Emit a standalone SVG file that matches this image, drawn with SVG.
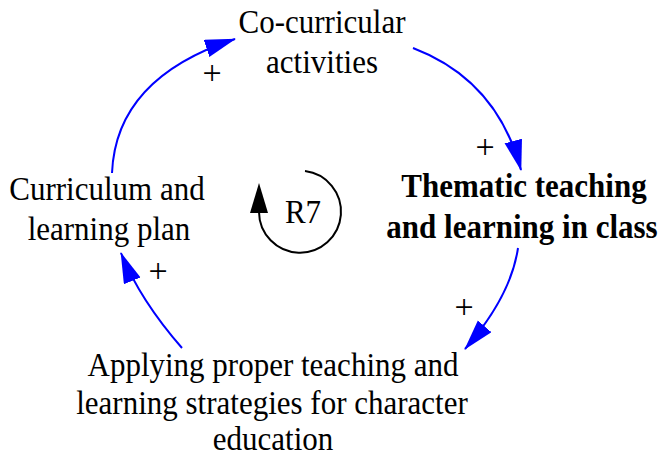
<svg xmlns="http://www.w3.org/2000/svg" width="662" height="456" viewBox="0 0 662 456">
<defs>
<style>
text{font-family:'Liberation Serif',serif;font-size:31px;fill:#000;text-anchor:middle}
.b{font-weight:bold}
.pl{font-size:34px}
.link{fill:none;stroke:#0000ff;stroke-width:2;marker-end:url(#ah)}
</style>
<marker id="ah" markerUnits="userSpaceOnUse" markerWidth="32" markerHeight="20" refX="30" refY="9" orient="auto">
<path d="M0,0 L31,9 L0,18 z" fill="#0000ff"/>
</marker>
</defs>
<rect width="662" height="456" fill="#fff"/>
<g id="connectors">
<path class="link" d="M112,173 Q116,78 235,39"/>
<path class="link" d="M413,48 Q497,80 521,170"/>
<path class="link" d="M518,248 Q511,296 465,349"/>
<path class="link" d="M182,348 Q140,300 121,253"/>
<text class="pl" x="212" y="84">+</text>
<text class="pl" x="485" y="158">+</text>
<text class="pl" x="464" y="318">+</text>
<text class="pl" x="158" y="282">+</text>
</g>
<g id="loop">
<path d="M305,171 A41,41 0 1 1 259,212" fill="none" stroke="#000" stroke-width="2"/>
<path d="M259,183 L250,213 L268,213 z" fill="#000"/>
<text font-family="Liberation Serif, serif" transform="translate(303,223) scale(1,1.12)">R7</text>
</g>
<g id="cocurricular">
<text font-family="Liberation Serif, serif" transform="translate(322,33) scale(1,1.12)">Co-curricular</text>
<text font-family="Liberation Serif, serif" transform="translate(322,73) scale(1,1.12)">activities</text>
</g>
<g id="thematic">
<text class="b" font-family="Liberation Serif, serif" transform="translate(524,197) scale(1,1.12)">Thematic teaching</text>
<text class="b" font-family="Liberation Serif, serif" transform="translate(522,238) scale(1,1.12)">and learning in class</text>
</g>
<g id="curriculum">
<text font-family="Liberation Serif, serif" transform="translate(107,200) scale(1,1.12)">Curriculum and</text>
<text font-family="Liberation Serif, serif" transform="translate(109,240) scale(1,1.12)">learning plan</text>
</g>
<g id="applying">
<text font-family="Liberation Serif, serif" transform="translate(273,376) scale(1,1.12)">Applying proper teaching and</text>
<text font-family="Liberation Serif, serif" transform="translate(272,414) scale(1,1.12)">learning strategies for character</text>
<text font-family="Liberation Serif, serif" transform="translate(273,450) scale(1,1.12)">education</text>
</g>
</svg>
